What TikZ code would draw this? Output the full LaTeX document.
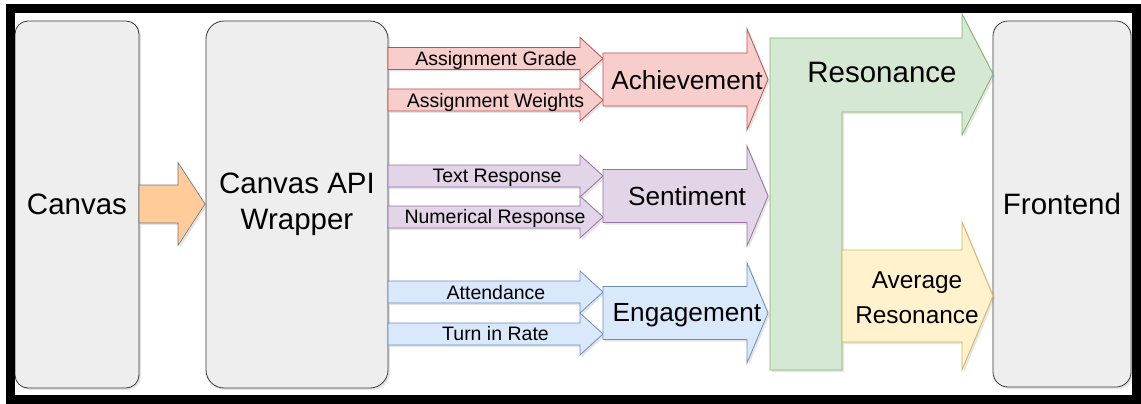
\documentclass[tikz,border=0pt]{standalone}
\usepackage{fontspec}
\setmainfont{Liberation Sans}
\usepackage{tikz}
\usetikzlibrary{shapes,arrows,positioning,shadows}

\definecolor{boxfill}{HTML}{EEEEEE}
\definecolor{boxline}{HTML}{36393D}
\definecolor{redfill}{HTML}{F8CECC}
\definecolor{redline}{HTML}{B85450}
\definecolor{purplefill}{HTML}{E1D5E7}
\definecolor{purpleline}{HTML}{9673A6}
\definecolor{bluefill}{HTML}{DAE8FC}
\definecolor{blueline}{HTML}{6C8EBF}
\definecolor{greenfill}{HTML}{D5E8D4}
\definecolor{greenline}{HTML}{82B366}
\definecolor{yellowfill}{HTML}{FFF2CC}
\definecolor{yellowline}{HTML}{D6B656}
\definecolor{orangefill}{HTML}{FFCC99}

% fat arrow: style, tail x, head x, tip x, centre y, half shaft, half head
\newcommand{\fatarrow}[7]{%
  \draw[#1] (#2,#5-#6) -- (#3,#5-#6) -- (#3,#5-#7) -- (#4,#5)
    -- (#3,#5+#7) -- (#3,#5+#6) -- (#2,#5+#6) -- cycle;}

\begin{document}
\begin{tikzpicture}[
    x=1pt, y=-1pt,
    softshadow/.style={drop shadow={shadow xshift=2pt, shadow yshift=-2pt, opacity=.2}},
    endbox/.style={rectangle, rounded corners=14pt, draw=boxline, line width=.8pt, fill=boxfill, softshadow, align=center, font=\fontsize{29.5}{36.5}\selectfont},
    redarrow/.style={draw=redline, line width=.8pt, fill=redfill, softshadow},
    purplearrow/.style={draw=purpleline, line width=.8pt, fill=purplefill, softshadow},
    bluearrow/.style={draw=blueline, line width=.8pt, fill=bluefill, softshadow},
    inlabel/.style={font=\fontsize{19.5}{23}\selectfont, text height=14pt, text depth=0pt, inner sep=0pt},
    metriclabel/.style={font=\fontsize{26.2}{31}\selectfont, text height=18.8pt, text depth=0pt, inner sep=0pt}
]

\useasboundingbox (0,0) rectangle (1141,404);
\fill[white] (0,0) rectangle (1141,404);

% Sources and sink
\node[endbox, minimum width=124pt, minimum height=367pt, rounded corners=13pt] (canvas) at (77,204.5) {Canvas};
\node[endbox, minimum width=182pt, minimum height=367pt, rounded corners=18pt] (wrapper) at (297,204.5) {Canvas API\\Wrapper};
\node[endbox, minimum width=138pt, minimum height=366pt, rounded corners=15pt] (frontend) at (1062,204) {Frontend};

% Canvas -> wrapper
\fatarrow{draw=boxline!70, line width=.6pt, fill=orangefill, softshadow}{139}{178}{205}{204}{19}{41.5}

% Achievement inputs
\fatarrow{redarrow}{388}{580}{603}{58.5}{11}{21}
\fatarrow{redarrow}{388}{580}{603}{100}{11}{21}
\fatarrow{redarrow}{603}{747}{768}{79.5}{26.5}{50.5}
\node[inlabel] (grade) at (496,58.5) {Assignment Grade};
\node[inlabel] (weights) at (495.5,100) {Assignment Weights};
\node[metriclabel] (achieve) at (687,80) {Achievement};

% Sentiment inputs
\fatarrow{purplearrow}{388}{580}{603}{176}{11}{21}
\fatarrow{purplearrow}{388}{580}{603}{217}{11}{21}
\fatarrow{purplearrow}{603}{747}{768}{196}{26.5}{50}
\node[inlabel] (textresp) at (497,175) {Text Response};
\node[inlabel] (numresp) at (495,216) {Numerical Response};
\node[metriclabel] (sentiment) at (687,196) {Sentiment};

% Engagement inputs
\fatarrow{bluearrow}{388}{580}{603}{292}{11}{21}
\fatarrow{bluearrow}{388}{580}{603}{334}{11}{21}
\fatarrow{bluearrow}{603}{747}{768}{313}{26.5}{50}
\node[inlabel] (attend) at (496,292) {Attendance};
\node[inlabel] (turnin) at (495.5,333) {Turn in Rate};
\node[metriclabel] (engage) at (687,312) {Engagement};

% Resonance and its average
\draw[draw=greenline, line width=.8pt, fill=greenfill, softshadow]
  (770,38) -- (962,38) -- (962,14) -- (993,74) -- (962,135) -- (962,112)
  -- (842,112) -- (842,370) -- (770,370) -- cycle;
\fatarrow{draw=yellowline, line width=.8pt, fill=yellowfill, softshadow}{842}{962}{993}{296}{46}{74}
\node[font=\fontsize{29.5}{36}\selectfont, text height=21.1pt, text depth=0pt, inner sep=0pt] (resonance) at (882,72) {Resonance};
\node[font=\fontsize{24.4}{35}\selectfont, align=center, inner sep=0pt] (avgres) at (917,298) {Average\\Resonance};

% Frame
\draw[line width=9pt] (10,8.5) rectangle (1136.5,399.5);

\end{tikzpicture}
\end{document}
